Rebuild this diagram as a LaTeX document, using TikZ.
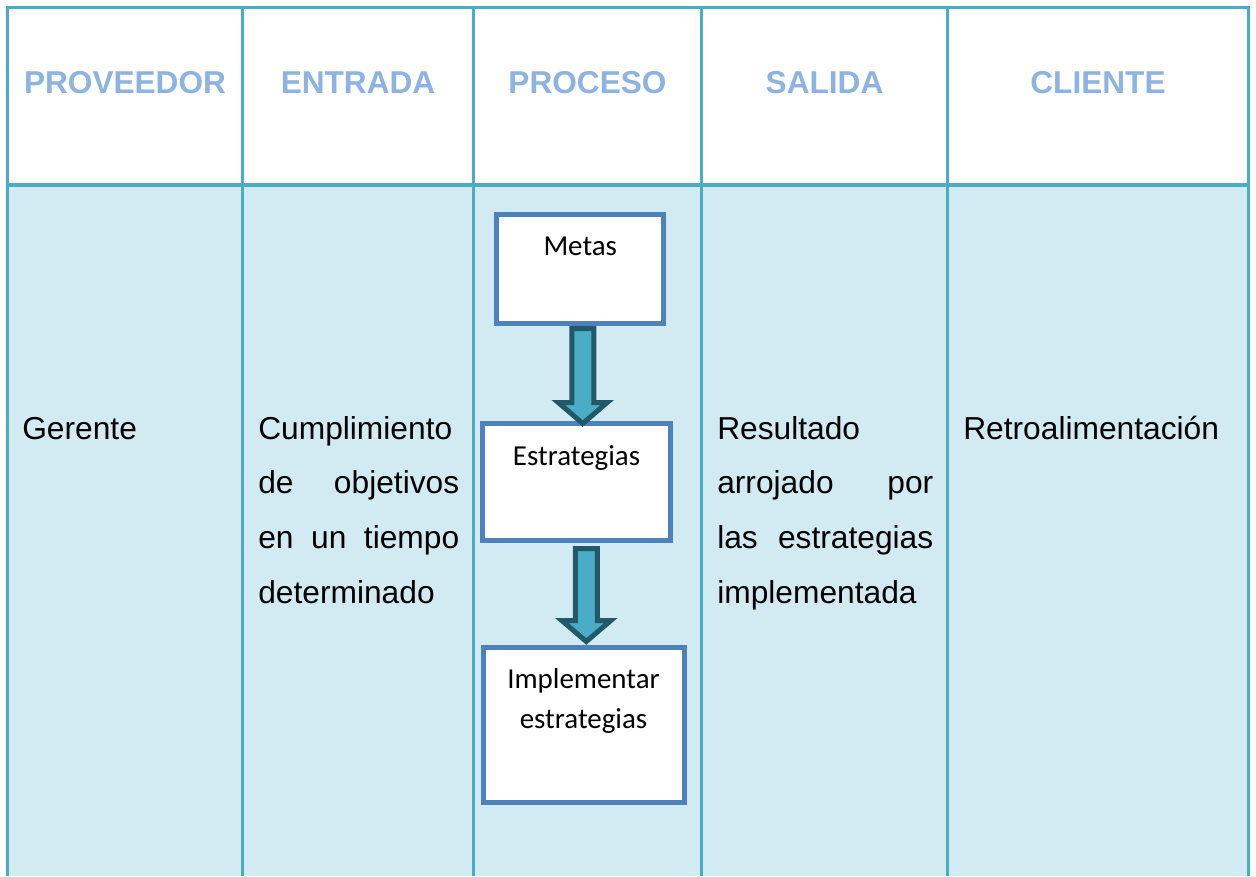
\documentclass[tikz,border=0pt]{standalone}
\usepackage{xcolor}
\usepackage{fontspec}
\setmainfont{Liberation Sans}
\newfontfamily\calibri{Carlito}
\usepackage{tikz}
\usetikzlibrary{calc, positioning}

\definecolor{tablaborde}{HTML}{4BACC6}
\definecolor{tablafondo}{HTML}{D2EAF1}
\definecolor{titulo}{HTML}{8DB3E2}
\definecolor{cajaborde}{HTML}{4F81BD}
\definecolor{flechaborde}{HTML}{215968}

\tikzstyle{linea} = [draw=tablaborde, line width=2.25pt]
\tikzstyle{flecha} = [draw=flechaborde, fill=tablaborde, line width=3.75pt, line join=miter]

\begin{document}
\begin{tikzpicture}[x=0.75pt, y=-0.75pt]
        \tikzstyle{cabecera}=[
            text=titulo,
            font=\bfseries\fontsize{23.7pt}{28pt}\selectfont,
            anchor=base,
            inner sep=0pt
        ]
        \tikzstyle{celda}=[
            font=\fontsize{23.8pt}{41pt}\selectfont,
            anchor=base west,
            inner sep=0pt,
            align=left
        ]
        \tikzstyle{caja}=[
            draw=cajaborde, fill=white,
            line width=3.75pt,
            inner sep=0pt, outer sep=0pt,
            anchor=north,
            align=center,
            font=\calibri\fontsize{21.7pt}{30pt}\selectfont
        ]

        \useasboundingbox (0,0) rectangle (1256,876);
        \fill[white] (0,0) rectangle (1256,876);

        % tabla
        \fill[tablafondo] (7.5,185) rectangle (1248.5,876);
        \foreach \x in {242.5,473.5,701.5,947.5}
            \draw[linea] (\x,7.5) -- (\x,876);
        \draw[linea, line join=miter] (7.5,876) -- (7.5,7.5) -- (1248.5,7.5) -- (1248.5,876);
        \draw[linea, line width=3pt] (7.5,185) -- (1248.5,185);

        \foreach \x/\nombre in {125/PROVEEDOR, 358/ENTRADA, 587.5/PROCESO, 824.5/SALIDA, 1098/CLIENTE}
            \node[cabecera] (\nombre) at (\x,93.5) {\nombre};

        \node[celda] (gerente) at (22,439) {Gerente};
        \node[celda, text width=150.75pt] (entrada) at (258,439)
            {Cumplimiento\\de\hfill objetivos\\en\hfill un\hfill tiempo\\determinado};
        \node[celda, text width=162pt] (salida) at (717,439)
            {Resultado\\arrojado\hfill por\\las\hfill estrategias\\implementada};
        \node[celda] (cliente) at (963,439) {Retroalimentación};

        % proceso
        \node[caja, text width=125.6pt, text height=30.6pt, text depth=51.15pt] (metas) at (580.25,214.5) {Metas};
        \node[caja, text width=141pt, text height=31.2pt, text depth=56.55pt] (estrat) at (576.5,423.5) {Estrategias};
        \node[caja, text width=150.75pt, text height=31pt, text depth=85.25pt] (impl) at (583.5,647.5) {Implementar\\estrategias};

        \coordinate (f1a) at ($(metas.south)+(2.5,5)$);
        \coordinate (f1b) at (f1a |- estrat.north);
        \coordinate (f2a) at ($(estrat.south)+(9.8,8)$);
        \coordinate (f2b) at ($(f2a |- impl.north)+(0,-6)$);

        \foreach \ini/\fin in {f1a/f1b, f2a/f2b}
            \draw[flecha] ($(\ini)+(-11,0)$) -- ($(\fin)+(-11,-21)$) -- ($(\fin)+(-24.5,-21)$) -- (\fin)
                -- ($(\fin)+(24.5,-21)$) -- ($(\fin)+(11,-21)$) -- ($(\ini)+(11,0)$) -- cycle;

    \end{tikzpicture}
\end{document}
